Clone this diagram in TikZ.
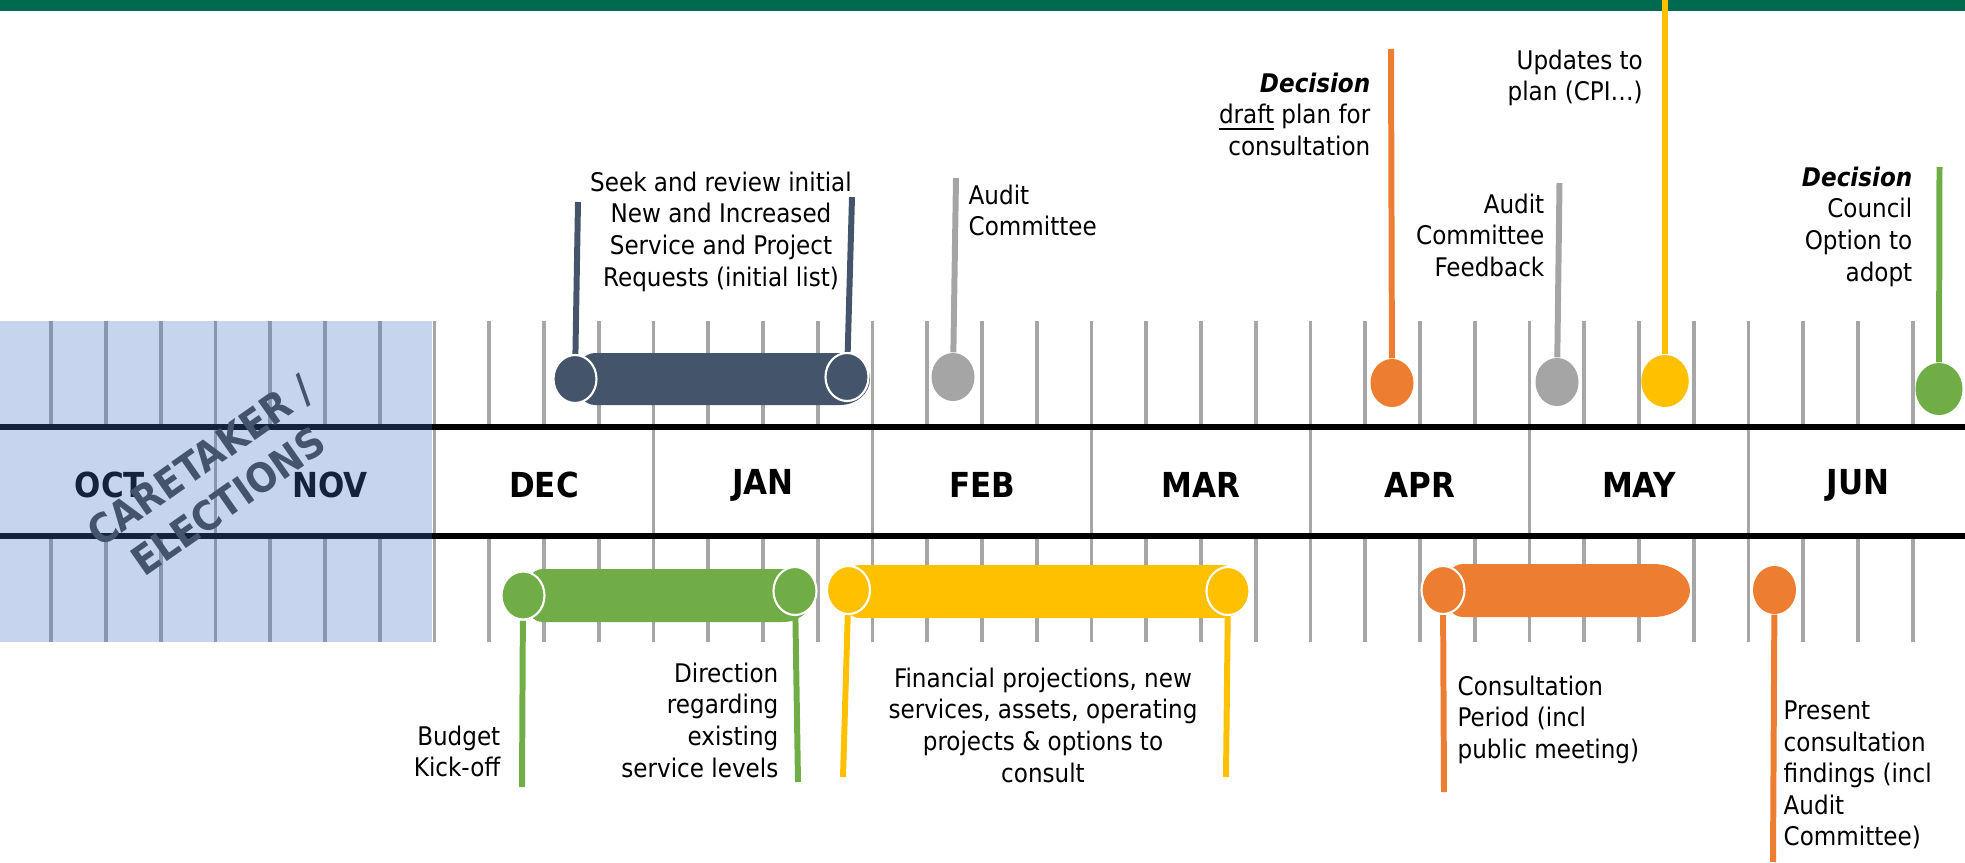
\documentclass[tikz,border=0pt]{standalone}
\usepackage{fontspec}
\setmainfont{DejaVu Sans Condensed}
\usetikzlibrary{shapes.geometric}
\pgfdeclarelayer{bg}
\pgfsetlayers{bg,main}

\definecolor{band}{HTML}{006A4E}
\definecolor{slate}{HTML}{44546A}
\definecolor{leaf}{HTML}{70AD47}
\definecolor{amber}{HTML}{FFC000}
\definecolor{tangerine}{HTML}{ED7D31}
\definecolor{pingray}{HTML}{A5A5A5}
\definecolor{tickgray}{HTML}{A6A6A6}
\definecolor{caretaker}{HTML}{4472C4}

\begin{document}
\begin{tikzpicture}[
  weektick/.style={draw=tickgray, line width=1.1pt},
  rail/.style={draw=black, line width=1.45pt},
  monthlbl/.style={font=\bfseries\fontsize{9.8}{11}\selectfont, inner sep=0pt},
  lbl/.style={font=\fontsize{7.3}{9}\selectfont, inner sep=0pt},
  pinhead/.style={ellipse, fill=#1, minimum width=0.43cm, minimum height=0.48cm, inner sep=0pt},
  capend/.style={pinhead=#1, draw=white, line width=0.6pt},
  stem/.style={draw=#1, line width=1.7pt},
]
\useasboundingbox (0, 0) rectangle (19.65, 8.62);
\begin{pgfonlayer}{bg}
\fill [band] (0, 8.51) rectangle (19.65, 8.62);
\end{pgfonlayer}

% weekly ticks, month dividers and the two rails
\foreach \k in {-7,...,27} {
  \draw [weektick] ({4.345+0.5475*\k}, 4.35) -- ++(0, 1.06);
  \draw [weektick] ({4.345+0.5475*\k}, 2.20) -- ++(0, 1.06);
}
\foreach \k in {-4,0,...,24}
  \draw [weektick] ({4.345+0.5475*\k}, 3.26) -- ++(0, 1.09);
\draw [rail] (0, 4.35) -- (19.65, 4.35);
\draw [rail] (0, 3.26) -- (19.65, 3.26);

\node [monthlbl] (oct) at (1.10, 3.77) {OCT};
\node [monthlbl] (nov) at (3.30, 3.77) {NOV};
\foreach \m [count=\i from 0] in {DEC,JAN,FEB,MAR,APR,MAY,JUN}
  \node [monthlbl] (\m) at ({5.44+2.19*\i}, 3.77) {\m};

% caretaker period
\fill [caretaker, opacity=0.3] (0, 2.20) rectangle (4.32, 5.41);
\node [rotate=35, align=center, text=slate, font=\bfseries\fontsize{11.5}{14}\selectfont] (elect) at (2.14, 3.81) {CARETAKER /\\ELECTIONS};

% bars
\fill [slate] (5.95, 4.57) -- (8.40, 4.57) arc [start angle=-90, end angle=90, x radius=0.30, y radius=0.26] -- (5.95, 5.09) arc [start angle=90, end angle=270, x radius=0.20, y radius=0.26] -- cycle;
\fill [leaf] (5.43, 2.40) -- (7.83, 2.40) arc [start angle=-90, end angle=90, x radius=0.30, y radius=0.265] -- (5.43, 2.93) arc [start angle=90, end angle=270, x radius=0.20, y radius=0.265] -- cycle;
\fill [amber] (8.60, 2.44) -- (12.20, 2.44) arc [start angle=-90, end angle=90, x radius=0.30, y radius=0.265] -- (8.60, 2.97) arc [start angle=90, end angle=270, x radius=0.20, y radius=0.265] -- cycle;
\fill [tangerine] (14.63, 2.45) -- (16.53, 2.45) arc [start angle=-90, end angle=90, x radius=0.37, y radius=0.265] -- (14.63, 2.98) arc [start angle=90, end angle=270, x radius=0.20, y radius=0.265] -- cycle;

% pins above the rails
\node [capend=slate] (sA) at (5.75, 4.83) {};
\node [capend=slate] (sB) at (8.47, 4.85) {};
\node [pinhead=pingray] (audit) at (9.53, 4.85) {};
\node [pinhead=tangerine] (draftpin) at (13.92, 4.79) {};
\node [pinhead=pingray] (feedback) at (15.57, 4.80) {};
\node [pinhead=amber, minimum width=0.475cm, minimum height=0.52cm] (updates) at (16.65, 4.81) {};
\node [pinhead=leaf, minimum width=0.47cm, minimum height=0.52cm] (adopt) at (19.39, 4.73) {};
\coordinate (sAtop) at (5.78, 6.60);
\coordinate (sBtop) at (8.52, 6.65);
\coordinate (audittop) at (9.56, 6.84);
\coordinate (drafttop) at (13.91, 8.13);
\coordinate (feedbacktop) at (15.595, 6.79);
\coordinate (updatestop) at (16.65, 8.62);
\coordinate (adopttop) at (19.395, 6.95);

% pins below the rails
\node [capend=leaf] (gA) at (5.23, 2.665) {};
\node [capend=leaf] (gB) at (7.95, 2.71) {};
\node [capend=amber] (yA) at (8.485, 2.72) {};
\node [capend=amber] (yB) at (12.28, 2.71) {};
\node [capend=tangerine] (oA) at (14.43, 2.72) {};
\node [pinhead=tangerine] (jun) at (17.745, 2.72) {};
\coordinate (gAend) at (5.22, 0.75);
\coordinate (gBend) at (7.98, 0.80);
\coordinate (yAend) at (8.43, 0.85);
\coordinate (yBend) at (12.26, 0.85);
\coordinate (oAend) at (14.44, 0.70);
\coordinate (junend) at (17.73, 0);

\begin{pgfonlayer}{bg}
\draw [stem=slate] (sA) to (sAtop);
\draw [stem=slate] (sB) to (sBtop);
\draw [stem=pingray] (audit) to (audittop);
\draw [stem=tangerine] (draftpin) to (drafttop);
\draw [stem=pingray] (feedback) to (feedbacktop);
\draw [stem=amber] (updates) to (updatestop);
\draw [stem=leaf] (adopt) to (adopttop);
\draw [stem=leaf] (gA) to (gAend);
\draw [stem=leaf] (gB) to (gBend);
\draw [stem=amber] (yA) to (yAend);
\draw [stem=amber] (yB) to (yBend);
\draw [stem=tangerine] (oA) to (oAend);
\draw [stem=tangerine] (jun) to (junend);
\end{pgfonlayer}

% labels
\node [lbl, anchor=north, align=center] (seek) at (7.21, 6.91) {Seek and review initial\\New and Increased\\Service and Project\\Requests (initial list)};
\node [lbl, anchor=north west, align=left] (auditlbl) at (9.68, 6.78) {Audit\\Committee};
\node [lbl, anchor=north east, align=right] (draftlbl) at (13.71, 7.90) {\textbf{\textit{Decision}}\\\underline{draft} plan for\\consultation};
\node [lbl, anchor=north east, align=right] (cpi) at (16.435, 8.13) {Updates to\\plan (CPI…)};
\node [lbl, anchor=north east, align=right] (feedbacklbl) at (15.45, 6.69) {Audit\\Committee\\Feedback};
\node [lbl, anchor=north east, align=right] (council) at (19.13, 6.96) {\textbf{\textit{Decision}}\\Council\\Option to\\adopt};
\node [lbl, anchor=north east, align=right] (kickoff) at (5.01, 1.37) {Budget\\Kick-off};
\node [lbl, anchor=north east, align=right] (levels) at (7.79, 2.00) {Direction\\regarding\\existing\\service levels};
\node [lbl, anchor=north, align=center] (finance) at (10.43, 1.95) {Financial projections, new\\services, assets, operating\\projects \& options to\\consult};
\node [lbl, anchor=north west, align=left] (period) at (14.57, 1.87) {Consultation\\Period (incl\\public meeting)};
\node [lbl, anchor=north west, align=left] (findings) at (17.83, 1.62) {Present\\consultation\\findings (incl\\Audit\\Committee)};
\end{tikzpicture}
\end{document}
